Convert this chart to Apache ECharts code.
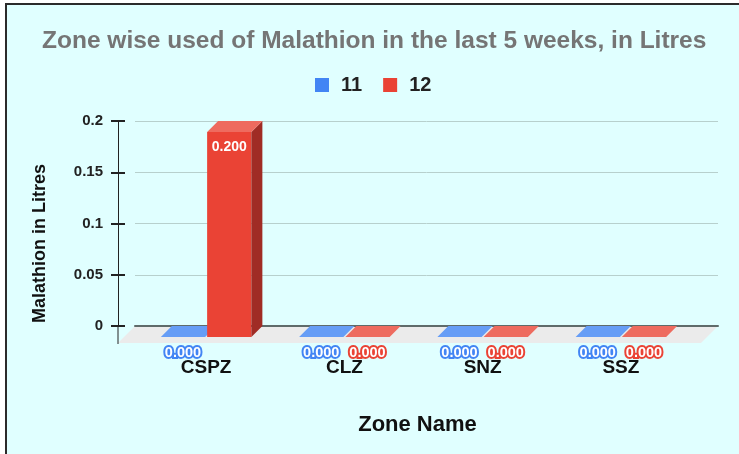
<!DOCTYPE html>
<html>
<head>
<meta charset="utf-8">
<script src="https://cdn.jsdelivr.net/npm/echarts@6/dist/echarts.min.js"></script>
<style>
  html, body { margin: 0; padding: 0; background: #fff; }
  #sheet { position: absolute; left: 5px; top: 3px; width: 734px; height: 451px; background: #e0ffff;
           border-left: 2px solid #2b2b2b; border-top: 2px solid #2b2b2b; box-sizing: border-box; }
  #chart { position: absolute; left: 0; top: 0; width: 739px; height: 454px; }
</style>
</head>
<body>
<div id="sheet"></div>
<div id="chart"></div>
<script>
// data
var zones = ['CSPZ', 'CLZ', 'SNZ', 'SSZ'];
var week11 = [0, 0, 0, 0];
var week12 = [0.2, 0, 0, 0];
var seriesNames = ['11', '12'];

var chartDom = document.getElementById('chart');
var myChart = echarts.init(chartDom);
var option;

var DEPTH = 11;
var FONT = '"Liberation Sans", Arial, sans-serif';
var palette = [
  { front: '#4285f4', top: '#669df6', side: '#2c5fb3' },
  { front: '#ea4335', top: '#ee6b5f', side: '#a02c25' }
];

// fake 3d bar: front face, right side, top face + label
function barRenderer(idx) {
  return function (params, api) {
    var cat = api.value(0), v = api.value(1);
    var base = api.coord([cat, 0]);
    var top = api.coord([cat, v]);
    var bw = api.size([1, 0])[0] * 0.32;
    var x0 = idx === 0 ? base[0] - bw - 1 : base[0] + 1;
    var x1 = x0 + bw;
    var fb = base[1] + DEPTH, ft = top[1] + DEPTH, d = DEPTH;
    var c = palette[idx];
    var kids = [];
    if (fb - ft > 0.5) {
      kids.push({ type: 'rect', shape: { x: x0, y: ft, width: bw, height: fb - ft }, style: { fill: c.front } });
      kids.push({ type: 'polygon', shape: { points: [[x1, ft], [x1 + d, ft - d], [x1 + d, fb - d], [x1, fb]] }, style: { fill: c.side } });
    }
    kids.push({ type: 'polygon', shape: { points: [[x0, ft], [x1, ft], [x1 + d, ft - d], [x0 + d, ft - d]] }, style: { fill: c.top } });
    var txt = v.toFixed(3);
    if (v > 0) {
      kids.push({ type: 'text', style: { text: txt, x: (x0 + x1) / 2, y: ft + 15, fill: '#fff',
        fontSize: 14, fontWeight: 'bold', fontFamily: FONT, align: 'center', verticalAlign: 'middle' } });
    } else {
      kids.push({ type: 'text', z2: 5, style: { text: txt, x: (x0 + x1) / 2, y: base[1] + 27, fill: '#fff',
        stroke: c.front, lineWidth: 4,
        fontSize: 14.5, fontWeight: 'bold', fontFamily: FONT, align: 'center', verticalAlign: 'middle' } });
    }
    return { type: 'group', children: kids };
  };
}

function floorRenderer(params, api) {
  var cs = params.coordSys;
  var yb = cs.y + cs.height;
  return {
    type: 'group',
    children: [
      { type: 'polygon', shape: { points: [[cs.x, yb], [cs.x + cs.width, yb], [cs.x + cs.width - 17, yb + 17], [cs.x - 17, yb + 17]] },
        style: { fill: '#ebebeb' } },
      { type: 'line', shape: { x1: cs.x - 17, y1: yb, x2: cs.x - 17, y2: yb + 18 }, style: { stroke: '#222', lineWidth: 1 } }
    ]
  };
}

option = {
  animation: false,
  backgroundColor: 'transparent',
  textStyle: { fontFamily: FONT },
  title: {
    text: 'Zone wise used of Malathion in the last 5 weeks, in Litres',
    left: 37,
    top: 24,
    textStyle: { fontSize: 24.5, fontWeight: 'bold', color: '#757575' }
  },
  legend: {
    data: seriesNames,
    left: 310,
    top: 70,
    icon: 'rect',
    itemWidth: 14,
    itemHeight: 14,
    itemGap: 21,
    textStyle: { fontSize: 20, fontWeight: 'bold', color: '#222', padding: [0, 0, 0, 7] }
  },
  grid: [
    { left: 135, right: 21, top: 121, bottom: 128 },
    { left: 137, right: 49, top: 121, bottom: 128 }
  ],
  xAxis: [
    {
      gridIndex: 0, type: 'value', min: 0, max: 1,
      axisLine: { show: true, onZero: false, lineStyle: { color: '#5f6b6a', width: 2 } },
      axisTick: { show: false }, axisLabel: { show: false }, splitLine: { show: false }
    },
    {
      gridIndex: 1, type: 'category', data: zones,
      axisLine: { show: false }, axisTick: { show: false },
      axisLabel: { fontSize: 19, fontWeight: 'bold', color: '#111', margin: 32 },
      name: 'Zone Name', nameLocation: 'middle', nameGap: 88,
      nameTextStyle: { fontSize: 22, fontWeight: 'bold', color: '#111', padding: [0, 0, 0, 8] }
    }
  ],
  yAxis: [
    {
      gridIndex: 0, type: 'value', position: 'left', min: 0, max: 0.2, interval: 0.05, offset: 17,
      axisLine: { show: true, onZero: false, lineStyle: { color: '#222', width: 1 } },
      axisTick: { show: true, length: 7, lineStyle: { color: '#222', width: 2 } },
      axisLabel: { fontSize: 15, fontWeight: 'bold', color: '#222', margin: 15 },
      splitLine: { show: true, lineStyle: { color: '#b7d0cd', width: 1 } },
      name: 'Malathion in Litres', nameLocation: 'middle', nameGap: 69,
      nameTextStyle: { fontSize: 18, fontWeight: 'bold', color: '#111', padding: [0, 40, 0, 0] }
    },
    {
      gridIndex: 0, type: 'value', position: 'left', min: 0, max: 0.2, interval: 0.05, offset: 17,
      axisLine: { show: false, onZero: false },
      axisTick: { show: true, inside: true, length: 7, lineStyle: { color: '#222', width: 2 } },
      axisLabel: { show: false }, splitLine: { show: false }
    },
    {
      gridIndex: 1, type: 'value', min: 0, max: 0.2, show: false
    }
  ],
  series: [
    {
      type: 'custom', name: 'floor', xAxisIndex: 0, yAxisIndex: 0, z: -1,
      renderItem: floorRenderer, data: [[0, 0]], silent: true
    },
    {
      type: 'custom', name: seriesNames[0], xAxisIndex: 1, yAxisIndex: 2,
      itemStyle: { color: palette[0].front },
      encode: { x: 0, y: 1 },
      renderItem: barRenderer(0),
      data: week11.map(function (v, i) { return [i, v]; })
    },
    {
      type: 'custom', name: seriesNames[1], xAxisIndex: 1, yAxisIndex: 2,
      itemStyle: { color: palette[1].front },
      encode: { x: 0, y: 1 },
      renderItem: barRenderer(1),
      data: week12.map(function (v, i) { return [i, v]; })
    }
  ]
};

option && myChart.setOption(option);
</script>
</body>
</html>
